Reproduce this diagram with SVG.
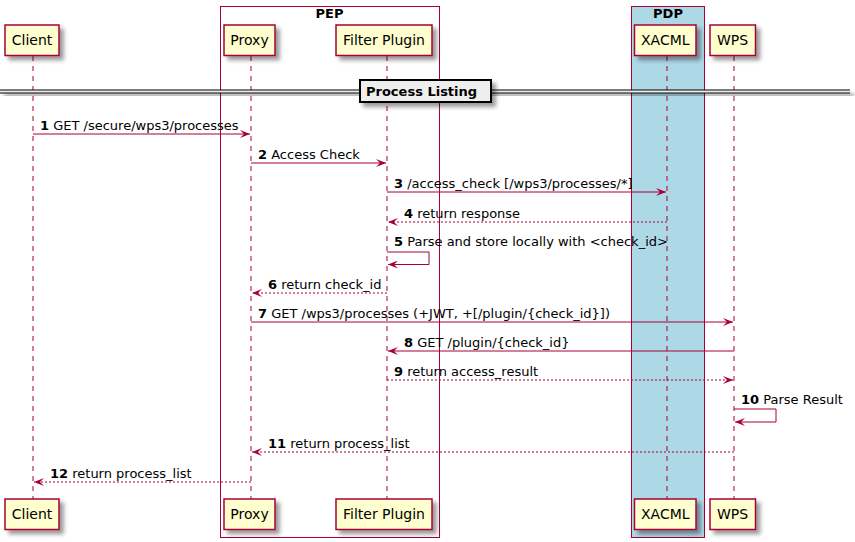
<svg xmlns="http://www.w3.org/2000/svg" width="855" height="542" viewBox="0 0 855 542">
<defs>
<filter id="sh" x="-1" y="-1" width="300%" height="300%">
<feGaussianBlur result="b1" stdDeviation="2"/>
<feColorMatrix in="b1" result="b2" type="matrix" values="0 0 0 0 0 0 0 0 0 0 0 0 0 0 0 0 0 0 .4 0"/>
<feOffset dx="4" dy="4" in="b2" result="b3"/>
<feBlend in="SourceGraphic" in2="b3" mode="normal"/>
</filter>
<marker id="ah" viewBox="0 0 10 8" refX="10" refY="4" markerWidth="10" markerHeight="8" markerUnits="userSpaceOnUse" orient="auto">
<polygon points="0,0 10,4 0,8 4,4" fill="#A80036"/>
</marker>
</defs>
<style>
.pbox{fill:#FEFECE;stroke:#A80036;stroke-width:1.5;filter:url(#sh)}
.pname{font-family:"DejaVu Sans",sans-serif;font-size:14px;fill:#000;text-anchor:middle}
.life{stroke:#A80036;stroke-width:1;stroke-dasharray:5,5}
.grp{stroke:#A80036;stroke-width:1}
.gt{font-family:"DejaVu Sans",sans-serif;font-size:13px;font-weight:bold;text-anchor:middle}
.msg{stroke:#A80036;stroke-width:1;fill:none}
.ret{stroke-dasharray:2,2}
.mt{font-family:"DejaVu Sans",sans-serif;font-size:13px;fill:#000}
.n{font-weight:bold}
</style>
<rect width="855" height="542" fill="#FFFFFF"/>
<g id="box-PEP">
<rect class="grp" x="220.5" y="6.5" width="219" height="531" fill="none"/>
<text class="gt" x="329.5" y="18">PEP</text>
</g>
<g id="box-PDP">
<rect class="grp" x="631.5" y="6.5" width="73" height="531" fill="#ADD8E6"/>
<text class="gt" x="668" y="18">PDP</text>
</g>
<g id="Client">
<line class="life" x1="33" y1="56" x2="33" y2="499"/>
<rect class="pbox" x="5" y="25" width="54" height="30.5"/>
<text class="pname" x="32" y="45">Client</text>
<rect class="pbox" x="5" y="499" width="54" height="30.5"/>
<text class="pname" x="32" y="519">Client</text>
</g>
<g id="Proxy">
<line class="life" x1="251" y1="56" x2="251" y2="499"/>
<rect class="pbox" x="224" y="25" width="51" height="30.5"/>
<text class="pname" x="249.5" y="45">Proxy</text>
<rect class="pbox" x="224" y="499" width="51" height="30.5"/>
<text class="pname" x="249.5" y="519">Proxy</text>
</g>
<g id="FilterPlugin">
<line class="life" x1="387" y1="56" x2="387" y2="499"/>
<rect class="pbox" x="336" y="25" width="96" height="30.5"/>
<text class="pname" x="384" y="45">Filter Plugin</text>
<rect class="pbox" x="336" y="499" width="96" height="30.5"/>
<text class="pname" x="384" y="519">Filter Plugin</text>
</g>
<g id="XACML">
<line class="life" x1="667" y1="56" x2="667" y2="499"/>
<rect class="pbox" x="634.5" y="25" width="61.5" height="30.5"/>
<text class="pname" x="665.3" y="45">XACML</text>
<rect class="pbox" x="634.5" y="499" width="61.5" height="30.5"/>
<text class="pname" x="665.3" y="519">XACML</text>
</g>
<g id="WPS">
<line class="life" x1="734" y1="56" x2="734" y2="499"/>
<rect class="pbox" x="710" y="25" width="45.5" height="30.5"/>
<text class="pname" x="732.5" y="45">WPS</text>
<rect class="pbox" x="710" y="499" width="45.5" height="30.5"/>
<text class="pname" x="732.5" y="519">WPS</text>
</g>
<g id="divider">
<g filter="url(#sh)">
<rect x="0" y="90" width="850" height="3" fill="#EEEEEE"/>
<line x1="0" y1="90" x2="850" y2="90" stroke="#000" stroke-width="1"/>
<line x1="0" y1="93" x2="850" y2="93" stroke="#000" stroke-width="1"/>
</g>
<rect x="360" y="80" width="131" height="22" fill="#EEEEEE" stroke="#000" stroke-width="2" filter="url(#sh)"/>
<text x="366" y="96" font-family="DejaVu Sans, sans-serif" font-size="13" font-weight="bold">Process Listing</text>
</g>
<g id="connectors">
<line class="msg" x1="33" y1="134" x2="250" y2="134" marker-end="url(#ah)"/>
<text class="mt" x="40" y="130"><tspan class="n">1</tspan> GET /secure/wps3/processes</text>
<line class="msg" x1="251" y1="163" x2="386" y2="163" marker-end="url(#ah)"/>
<text class="mt" x="258" y="159"><tspan class="n">2</tspan> Access Check</text>
<line class="msg" x1="387" y1="192" x2="666" y2="192" marker-end="url(#ah)"/>
<text class="mt" x="394" y="188"><tspan class="n">3</tspan> /access_check [/wps3/processes/*]</text>
<line class="msg ret" x1="667" y1="222" x2="388" y2="222" marker-end="url(#ah)"/>
<text class="mt" x="404" y="218"><tspan class="n">4</tspan> return response</text>
<polyline class="msg" points="387,252 429,252 429,264.5 388,264.5" marker-end="url(#ah)"/>
<text class="mt" x="394" y="246"><tspan class="n">5</tspan> Parse and store locally with &lt;check_id&gt;</text>
<line class="msg ret" x1="387" y1="293" x2="252" y2="293" marker-end="url(#ah)"/>
<text class="mt" x="268" y="289"><tspan class="n">6</tspan> return check_id</text>
<line class="msg" x1="251" y1="322" x2="733" y2="322" marker-end="url(#ah)"/>
<text class="mt" x="258" y="318"><tspan class="n">7</tspan> GET /wps3/processes (+JWT, +[/plugin/{check_id}])</text>
<line class="msg" x1="734" y1="351" x2="388" y2="351" marker-end="url(#ah)"/>
<text class="mt" x="404" y="347"><tspan class="n">8</tspan> GET /plugin/{check_id}</text>
<line class="msg ret" x1="387" y1="380" x2="733" y2="380" marker-end="url(#ah)"/>
<text class="mt" x="394" y="376"><tspan class="n">9</tspan> return access_result</text>
<polyline class="msg" points="734,409 776,409 776,422 735,422" marker-end="url(#ah)"/>
<text class="mt" x="741" y="404"><tspan class="n">10</tspan> Parse Result</text>
<line class="msg ret" x1="734" y1="452" x2="252" y2="452" marker-end="url(#ah)"/>
<text class="mt" x="268" y="448"><tspan class="n">11</tspan> return process_list</text>
<line class="msg ret" x1="251" y1="482" x2="34" y2="482" marker-end="url(#ah)"/>
<text class="mt" x="50" y="478"><tspan class="n">12</tspan> return process_list</text>
</g>
</svg>
